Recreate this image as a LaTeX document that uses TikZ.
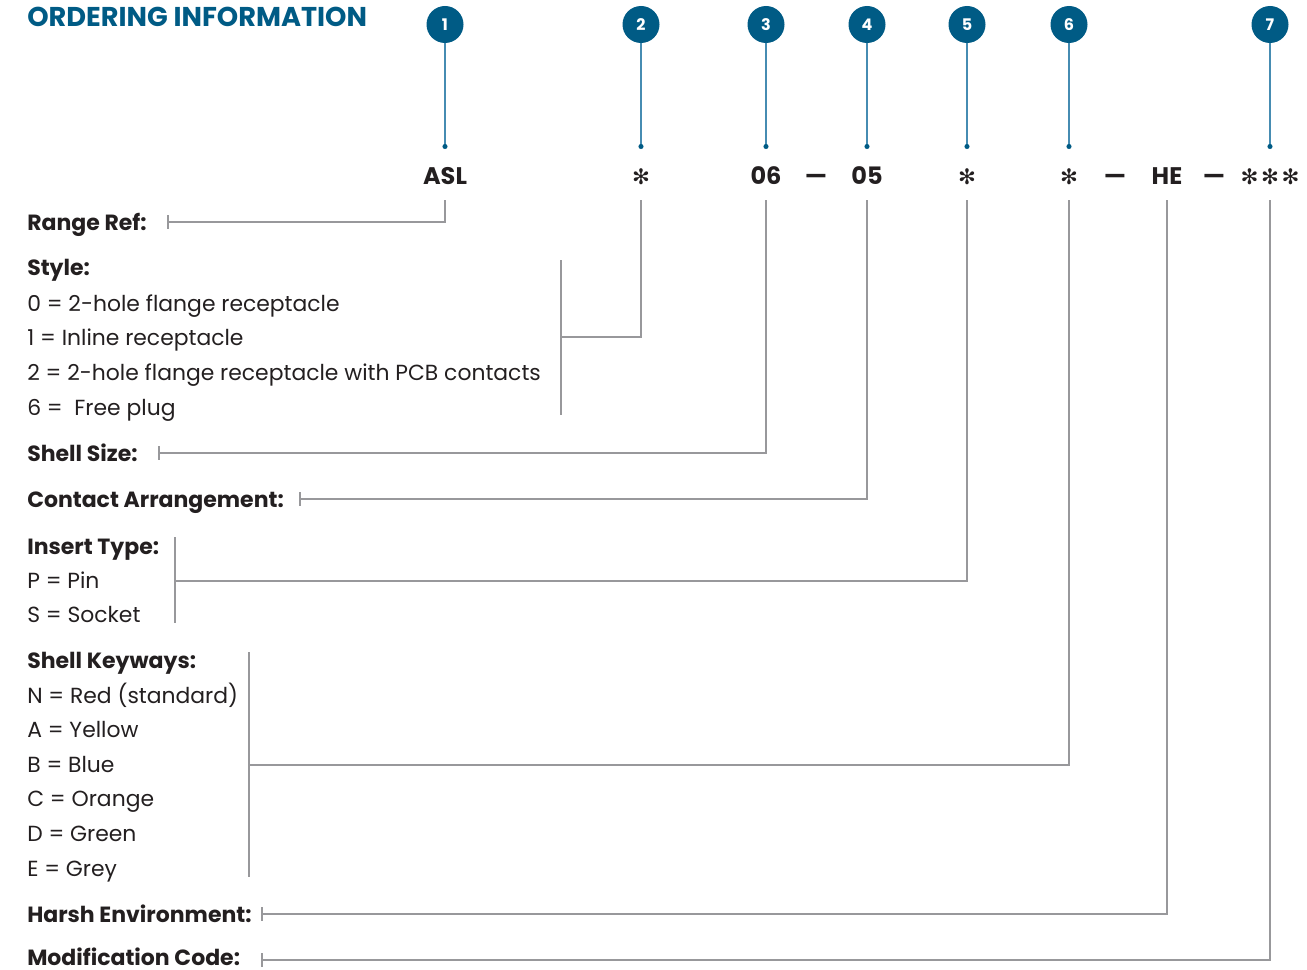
\documentclass[tikz,border=0pt]{standalone}
\usepackage{fontspec}
\setmainfont{Poppins}
\newfontfamily\symfont{DejaVu Sans}
\usetikzlibrary{positioning}
\definecolor{ordblue}{RGB}{0,91,133}
\definecolor{stemblue}{RGB}{70,140,178}
\definecolor{leadgrey}{RGB}{152,152,155}
\definecolor{txtdark}{RGB}{35,31,32}

\tikzset{
  numdot/.style={circle, fill=ordblue, text=white, minimum size=27.75pt, inner sep=0pt, font=\bfseries\fontsize{12}{12}\selectfont},
  code/.style={anchor=base, inner sep=0pt, text depth=11.25pt, text=txtdark, font=\bfseries\fontsize{18}{18}\selectfont},
  codeast/.style={code, font=\symfont\fontsize{16}{16}\selectfont},
  head/.style={anchor=base west, inner sep=0pt, text=txtdark, font=\bfseries\fontsize{16.5}{17}\selectfont},
  opt/.style={anchor=base west, inner sep=0pt, text=txtdark, font=\fontsize{16.4}{17}\selectfont},
  stem/.style={stemblue, line width=1pt},
  lead/.style={leadgrey, line width=1.3pt},
  endtick/.style={leadgrey, line width=1pt}
}

\begin{document}
\begin{tikzpicture}[x=0.75pt, y=-0.75pt]
  \useasboundingbox (0,0) rectangle (1307,970);
  \node[anchor=base west, inner sep=0pt, text=ordblue, font=\bfseries\fontsize{20.4}{21}\selectfont] (title) at (27,27) {ORDERING INFORMATION};

  % numbered callouts
  \foreach \n/\x in {1/445, 2/641, 3/766, 4/867, 5/967, 6/1069, 7/1270} {
    \node[numdot] (n\n) at (\x,24.5) {\n};
    \coordinate (p\n) at (\x,146.5);
    \draw[stem] (n\n) -- (p\n);
    \fill[ordblue] (p\n) circle (1.9pt);
  }

  % part number
  \node[code] (asl) at (445,185) {ASL};
  \node[codeast] (sty) at (641,185) {✻};
  \node[code] (shs) at (766,185) {06};
  \node[code] (m1) at (816,185) {—};
  \node[code] (con) at (867,185) {05};
  \node[codeast] (ins) at (967,185) {✻};
  \node[codeast] (key) at (1069,185) {✻};
  \node[code] (m2) at (1115,185) {—};
  \node[code] (he) at (1167,185) {HE};
  \node[code] (m3) at (1214,185) {—};
  \node[codeast] (mod) at (1270,185) {✻\kern2pt✻\kern2pt✻};

  % range ref
  \node[head] (rr) at (27,230) {Range Ref:};
  \coordinate (rrt) at (168,222);
  \draw[lead] (asl.south) |- (rrt);
  \draw[endtick] ([yshift=-5pt]rrt) -- ([yshift=5pt]rrt);

  % style
  \node[head] (st) at (27,276) {Style:};
  \foreach \t [count=\i] in {0 = 2-hole flange receptacle, 1 = Inline receptacle, 2 = 2-hole flange receptacle with PCB contacts, 6 = \ Free plug}
    \node[opt] (st\i) at (27,{311+34.7*(\i-1)}) {\t};
  \coordinate (stT) at (561,260);
  \coordinate (stM) at (561,337);
  \coordinate (stB) at (561,415);
  \draw[lead] (stT) -- (stB);
  \draw[lead] (sty.south) |- (stM);

  % shell size
  \node[head] (ss) at (27,461) {Shell Size:};
  \coordinate (sst) at (159,453);
  \draw[lead] (shs.south) |- (sst);
  \draw[endtick] ([yshift=-5pt]sst) -- ([yshift=5pt]sst);

  % contact arrangement
  \node[head] (ca) at (27,507) {Contact Arrangement:};
  \coordinate (cat) at (300,499);
  \draw[lead] (con.south) |- (cat);
  \draw[endtick] ([yshift=-5pt]cat) -- ([yshift=5pt]cat);

  % insert type
  \node[head] (it) at (27,554) {Insert Type:};
  \foreach \t [count=\i] in {P = Pin, S = Socket}
    \node[opt] (it\i) at (27,{588+34.5*(\i-1)}) {\t};
  \coordinate (itT) at (175,537);
  \coordinate (itM) at (175,581);
  \coordinate (itB) at (175,623);
  \draw[lead] (itT) -- (itB);
  \draw[lead] (ins.south) |- (itM);

  % shell keyways
  \node[head] (sk) at (27,668) {Shell Keyways:};
  \foreach \t [count=\i] in {N = Red (standard), A = Yellow, B = Blue, C = Orange, D = Green, E = Grey}
    \node[opt] (sk\i) at (27,{703+34.6*(\i-1)}) {\t};
  \coordinate (skT) at (249,652);
  \coordinate (skM) at (249,765);
  \coordinate (skB) at (249,877);
  \draw[lead] (skT) -- (skB);
  \draw[lead] (key.south) |- (skM);

  % harsh environment
  \node[head] (hv) at (27,922) {Harsh Environment:};
  \coordinate (hvt) at (262,914);
  \draw[lead] (he.south) |- (hvt);
  \draw[endtick] ([yshift=-5pt]hvt) -- ([yshift=5pt]hvt);

  % modification code
  \node[head] (mc) at (27,965) {Modification Code:};
  \coordinate (mct) at (262,960);
  \draw[lead] (mod.south) |- (mct);
  \draw[endtick] ([yshift=-5pt]mct) -- ([yshift=5pt]mct);
\end{tikzpicture}
\end{document}
